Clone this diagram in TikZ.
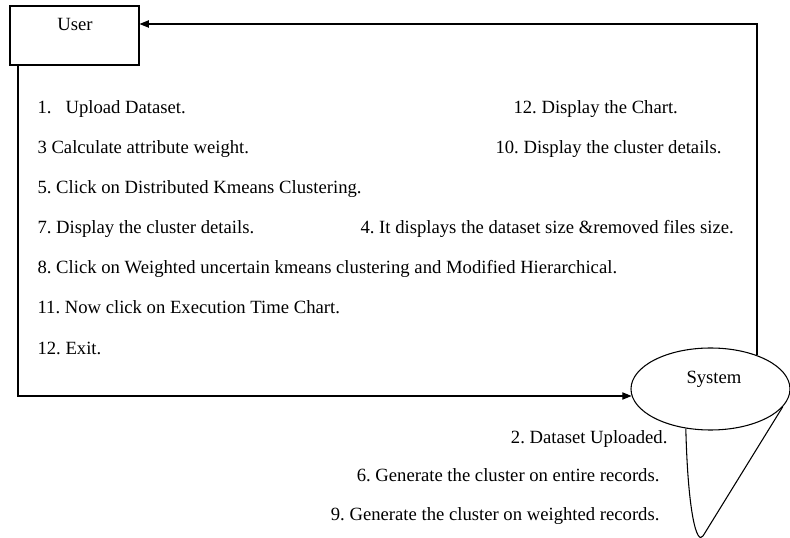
\documentclass[tikz,border=0pt]{standalone}
\usepackage{fontspec}
\setmainfont{Liberation Serif}
\usetikzlibrary{shapes.geometric,arrows.meta}
\frenchspacing
\begin{document}
\begin{tikzpicture}[x=0.75pt,y=-0.75pt,
  line width=0.8pt,
  txt/.style={inner sep=0pt, font=\fontsize{14}{17}\selectfont},
  arr/.style={-{Triangle[length=7pt,width=5.5pt]}},
]
\useasboundingbox (0,0) rectangle (790,538);
\node[draw, minimum width=96.75pt, minimum height=44.25pt, inner sep=0pt] (user) at (74.5,35.5) {};
\node[txt, anchor=base] (userl) at (75,31) {User};
\node[draw, ellipse, minimum width=119.25pt, minimum height=61.5pt, inner sep=0pt] (sys) at (710.5,389) {};
\node[txt, anchor=base] (sysl) at (714,384) {System};
\coordinate (tr) at (757,24);
\coordinate (bl) at (18,396);
\coordinate (tip) at (703,536);
\draw[arr] (sys.36) -- (sys.36 |- tr) -- (tr -| user.east);
\draw[arr] (user.south -| bl) -- (bl) -- (bl -| sys.185);
\draw (sys.238) .. controls (688,515) and (697,545) .. (tip) -- (sys.-14);
\node[txt, anchor=base west] (t1) at (37,114) {1.\hspace{10.5pt}Upload Dataset.};
\node[txt, anchor=base west] (t3) at (37,154) {3 Calculate attribute weight.};
\node[txt, anchor=base west] (t5) at (37,194) {5. Click on Distributed Kmeans Clustering.};
\node[txt, anchor=base west] (t7) at (37,234) {7. Display the cluster details.};
\node[txt, anchor=base west] (t8) at (37,274) {8. Click on Weighted uncertain kmeans clustering and Modified Hierarchical.};
\node[txt, anchor=base west] (t11) at (37,314) {11. Now click on Execution Time Chart.};
\node[txt, anchor=base west] (t12) at (37,355) {12. Exit.};
\node[txt, anchor=base west] (r12) at (513,114) {12. Display the Chart.};
\node[txt, anchor=base west] (r10) at (495,154) {10. Display the cluster details.};
\node[txt, anchor=base west] (r4) at (360,234) {4. It displays the dataset size \&removed files size.};
\node[txt, anchor=base east] (b2) at (668,444) {2. Dataset Uploaded.};
\node[txt, anchor=base east] (b6) at (660,482) {6. Generate the cluster on entire records.};
\node[txt, anchor=base east] (b9) at (660,521) {9. Generate the cluster on weighted records.};
\end{tikzpicture}
\end{document}
